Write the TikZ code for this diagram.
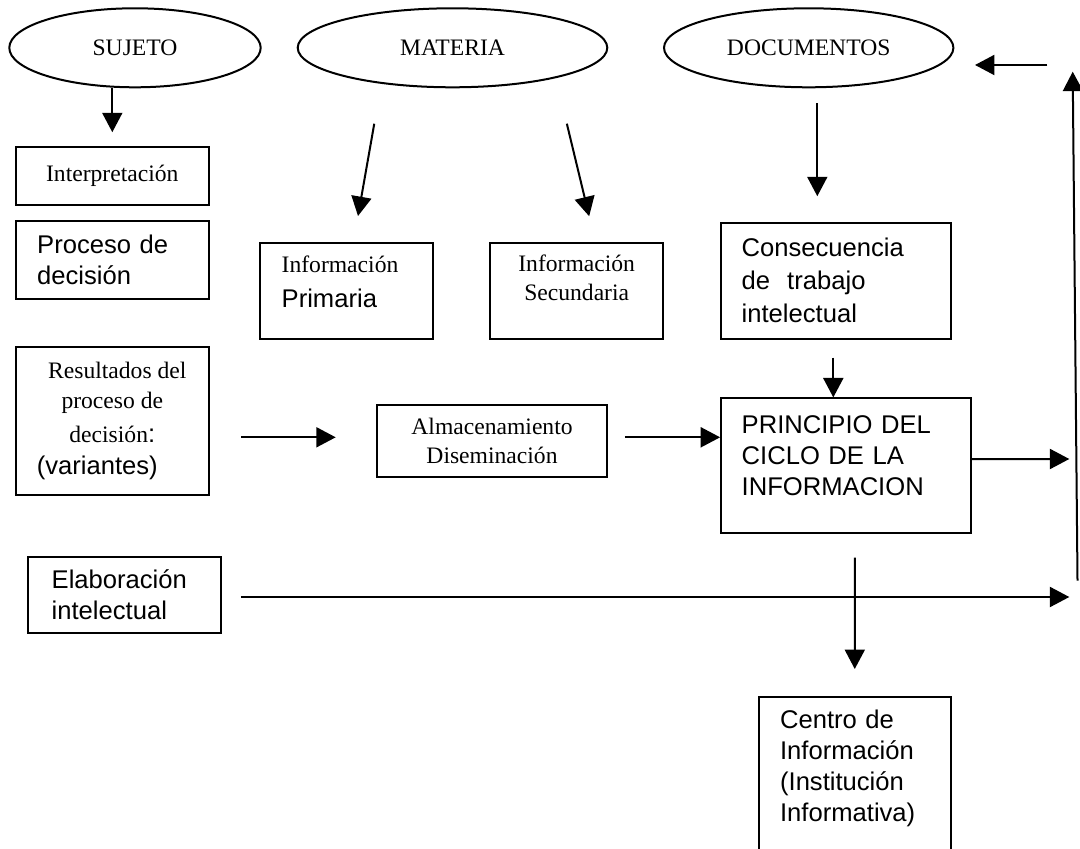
\documentclass[tikz,border=0pt]{standalone}
\usepackage{fontspec}
\setmainfont{Liberation Serif}
\newfontfamily\arialfont{Liberation Sans}
\usetikzlibrary{arrows.meta, shapes.geometric}

\newcommand{\tnr}[1]{{\rmfamily\fontsize{11.8}{14.5}\selectfont #1}}
\newcommand{\asf}[1]{{\arialfont\fontsize{12.8}{15.5}\selectfont #1}}

\begin{document}
\begin{tikzpicture}[x=0.5pt, y=-0.5pt, line width=1pt,
        oval/.style={draw, ellipse, inner sep=0pt, minimum height=39.5pt, font=\fontsize{11.8}{14.5}\selectfont},
        sbox/.style={draw, rectangle, inner sep=0pt, align=center, font=\fontsize{11.8}{14.5}\selectfont},
        abox/.style={draw, rectangle, inner ysep=0pt, inner xsep=10.5pt, align=left, font=\arialfont\fontsize{12.8}{15.5}\selectfont},
        arr/.style={-{Triangle[length=9.7pt, width=10pt]}}]
        \useasboundingbox (0,0) rectangle (1080,849);
        \node[oval, minimum width=125.7pt] (suj) at (135,47.8) {SUJETO};
        \node[oval, minimum width=154.8pt] (mat) at (452.5,47.8) {MATERIA};
        \node[oval, minimum width=144.7pt] (doc) at (808.7,47.8) {DOCUMENTOS};
        \node[sbox, minimum width=96.7pt, minimum height=29.2pt] (interp) at (112.3,175.8) {Interpretación};
        \node[abox, inner xsep=10.8pt, text width=75.1pt, minimum height=39.2pt] (proc) at (112.3,259.8) {Proceso de\\decisión};
        \node[abox, inner xsep=10.8pt, text width=64.6pt, minimum height=48.2pt, text depth=26.5pt] (prim) at (346.3,290.8) {\tnr{Información}\\[2pt]Primaria};
        \node[sbox, minimum width=86.7pt, minimum height=48.3pt, text depth=13.5pt] (sec) at (576.7,291) {Información\\Secundaria};
        \node[abox, inner xsep=10.3pt, text width=94.3pt, minimum height=58.2pt] (cons) at (836,280.8) {Consecuencia\\[1pt]de\ \ trabajo\\[1pt]intelectual};
        \node[sbox, minimum width=96.7pt, minimum height=74pt] (res) at (112.3,420.7) {\hspace*{5pt}Resultados del\\[0.5pt]proceso\ de\\[2.5pt]decisión\asf{:}\\[1.5pt]\asf{(variantes)}\hspace*{15pt}};
        \node[sbox, minimum width=115.3pt, minimum height=36.2pt] (alm) at (492,441.2) {Almacenamiento\\Diseminación};
        \node[abox, inner xsep=10.3pt, text width=104.1pt, minimum height=67.3pt, text depth=40.7pt] (princ) at (845.8,465.7) {PRINCIPIO DEL\\CICLO DE LA\\INFORMACION};
        \node[abox, inner xsep=11.8pt, text width=72.6pt, minimum height=38.3pt] (elab) at (124.3,595) {Elaboración\\intelectual};
        \node[abox, inner xsep=10.8pt, text width=74.6pt, minimum height=91.3pt, text depth=69.6pt] (cent) at (854.7,788.7) {Centro de\\Información\\(Institución\\Informativa)};
        \coordinate (pr) at (1069.3,459);
        \coordinate (er) at (1069.3,597);
        \coordinate (lb) at (1077.5,580.7);
        \coordinate (lt) at (1072.7,71.7);
        \coordinate (dr) at (1047.3,65);
        \draw[arr, shorten >=6.7pt] (suj.south -| interp.north) -- (interp.north);
        \draw[arr, shorten <=18pt, shorten >=13pt] ([xshift=-36pt]mat.south) -- ([xshift=3.6pt]prim.north);
        \draw[arr, shorten <=18.2pt, shorten >=13.1pt] ([xshift=52.9pt]mat.south) -- ([xshift=9.3pt]sec.north);
        \draw[arr, shorten <=7.5pt, shorten >=12.7pt] ([xshift=4.3pt]doc.south) -- ([xshift=-9.35pt]cons.north);
        \draw[arr, shorten <=8.8pt] ([xshift=-1.35pt]cons.south) -- ([xshift=-6.25pt]princ.north);
        \draw[arr, shorten <=15.5pt, shorten >=20pt] ([yshift=-8.3pt]res.east) -- ([yshift=1.95pt]alm.west);
        \draw[arr, shorten <=8.3pt] ([yshift=1.95pt]alm.east) -- ([yshift=14.2pt]princ.west);
        \draw[arr] ([yshift=3.35pt]princ.east) -- (pr);
        \draw[arr, shorten <=9.7pt] ([yshift=-1pt]elab.east) -- (er);
        \draw[arr, shorten <=11.8pt, shorten >=13.7pt] ([xshift=4.6pt]princ.south) -- (cent.north);
        \draw[arr] (lb) -- (lt);
        \draw[arr, shorten >=10.3pt] (dr) -- ([yshift=-8.6pt]doc.east);
    \end{tikzpicture}
\end{document}
